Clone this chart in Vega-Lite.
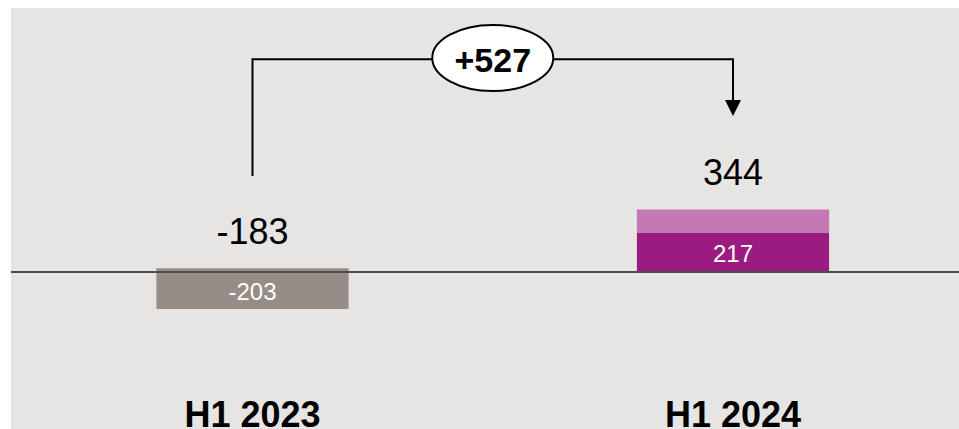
{
  "$schema": "https://vega.github.io/schema/vega-lite/v6.json",
  "autosize": {"type": "none"},
  "width": 948,
  "height": 421,
  "padding": {"left": 11, "top": 8, "right": 0, "bottom": 0},
  "background": "#ffffff",
  "config": {"view": {"fill": "#e6e5e3", "stroke": null}, "text": {"font": "Liberation Sans"}},
  "layer": [
    {
      "data": {"values": [
        {"period": "H1 2023", "x": 0.8, "x2": 1.2, "y": 0, "y2": 20, "seg": "2023 a"},
        {"period": "H1 2023", "x": 0.8, "x2": 1.2, "y": 0, "y2": -203, "seg": "2023 b"},
        {"period": "H1 2024", "x": 1.8, "x2": 2.2, "y": 0, "y2": 217, "seg": "2024 a"},
        {"period": "H1 2024", "x": 1.8, "x2": 2.2, "y": 217, "y2": 344, "seg": "2024 b"}
      ]},
      "mark": {"type": "rect"},
      "encoding": {
        "x": {"field": "x", "type": "quantitative", "scale": {"domain": [0.4974, 2.47034], "nice": false, "zero": false}, "axis": null},
        "x2": {"field": "x2"},
        "y": {"field": "y", "type": "quantitative", "scale": {"domain": [-863, 1451], "nice": false, "zero": false}, "axis": null},
        "y2": {"field": "y2"},
        "color": {"field": "seg", "type": "nominal", "legend": null,
          "scale": {"domain": ["2023 a", "2023 b", "2024 a", "2024 b"], "range": ["#958d86", "#958d86", "#9b1b80", "#c27ab5"]}}
      }
    },
    {
      "data": {"values": [{"y": 0}]},
      "mark": {"type": "rule", "color": "#4d4d4d", "strokeWidth": 2},
      "encoding": {"y": {"field": "y", "type": "quantitative"}}
    },
    {
      "data": {"values": [
        {"x": 1, "y": 527, "o": 0},
        {"x": 1, "y": 1169, "o": 1},
        {"x": 2, "y": 1169, "o": 2},
        {"x": 2, "y": 901, "o": 3}
      ]},
      "mark": {"type": "line", "color": "#000000", "strokeWidth": 2},
      "encoding": {
        "x": {"field": "x", "type": "quantitative"},
        "y": {"field": "y", "type": "quantitative"},
        "order": {"field": "o"}
      }
    },
    {
      "data": {"values": [{"x": 2, "y": 901}]},
      "mark": {"type": "point", "shape": "M-1,-1L1,-1L0,1Z", "filled": true, "color": "#000000", "size": 256, "opacity": 1},
      "encoding": {
        "x": {"field": "x", "type": "quantitative"},
        "y": {"field": "y", "type": "quantitative"}
      }
    },
    {
      "data": {"values": [{"x": 1.5, "y": 1176}]},
      "mark": {"type": "point", "shape": "M-1,0A1,0.545,0,1,1,1,0A1,0.545,0,1,1,-1,0Z", "filled": true, "fill": "#ffffff", "stroke": "#000000", "strokeWidth": 2, "size": 14641, "opacity": 1},
      "encoding": {
        "x": {"field": "x", "type": "quantitative"},
        "y": {"field": "y", "type": "quantitative"}
      }
    },
    {
      "data": {"values": [{"x": 1.5, "y": 1101, "label": "+527"}]},
      "mark": {"type": "text", "fontSize": 34, "fontWeight": "bold", "align": "center", "baseline": "alphabetic", "color": "#000000"},
      "encoding": {
        "x": {"field": "x", "type": "quantitative"},
        "y": {"field": "y", "type": "quantitative"},
        "text": {"field": "label"}
      }
    },
    {
      "data": {"values": [
        {"x": 1, "y": 154, "label": "-183"},
        {"x": 2, "y": 478, "label": "344"}
      ]},
      "mark": {"type": "text", "fontSize": 36, "align": "center", "baseline": "alphabetic", "color": "#000000"},
      "encoding": {
        "x": {"field": "x", "type": "quantitative"},
        "y": {"field": "y", "type": "quantitative"},
        "text": {"field": "label"}
      }
    },
    {
      "data": {"values": [
        {"x": 1, "y": -154, "label": "-203"},
        {"x": 2, "y": 56.5, "label": "217"}
      ]},
      "mark": {"type": "text", "fontSize": 24, "align": "center", "baseline": "alphabetic", "color": "#ffffff"},
      "encoding": {
        "x": {"field": "x", "type": "quantitative"},
        "y": {"field": "y", "type": "quantitative"},
        "text": {"field": "label"}
      }
    },
    {
      "data": {"values": [
        {"x": 1, "y": -850, "label": "H1 2023"},
        {"x": 2, "y": -850, "label": "H1 2024"}
      ]},
      "mark": {"type": "text", "fontSize": 36, "fontWeight": "bold", "align": "center", "baseline": "alphabetic", "color": "#000000"},
      "encoding": {
        "x": {"field": "x", "type": "quantitative"},
        "y": {"field": "y", "type": "quantitative"},
        "text": {"field": "label"}
      }
    }
  ]
}
